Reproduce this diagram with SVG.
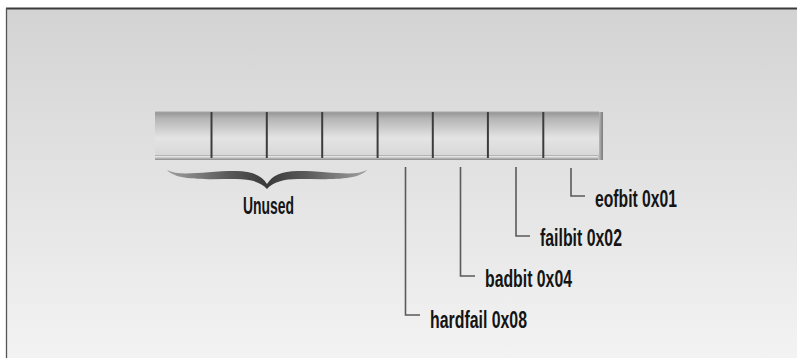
<svg xmlns="http://www.w3.org/2000/svg" width="797" height="358" viewBox="0 0 797 358">
  <defs>
    <linearGradient id="bg" x1="0" y1="0" x2="0" y2="1">
      <stop offset="0" stop-color="#d3d3d3"/>
      <stop offset="1" stop-color="#f3f3f3"/>
    </linearGradient>
    <linearGradient id="barFace" x1="0" y1="0" x2="0" y2="1">
      <stop offset="0" stop-color="#949494"/>
      <stop offset="0.15" stop-color="#b4b4b4"/>
      <stop offset="0.6" stop-color="#e4e4e4"/>
      <stop offset="1" stop-color="#d8d8d8"/>
    </linearGradient>
    <linearGradient id="barBottom" x1="0" y1="0" x2="0" y2="1">
      <stop offset="0" stop-color="#9a9a9a"/>
      <stop offset="0.3" stop-color="#e4e4e4"/>
      <stop offset="1" stop-color="#8a8a8a"/>
    </linearGradient>
    <linearGradient id="barSide" x1="0" y1="0" x2="1" y2="0">
      <stop offset="0" stop-color="#c8c8c8"/>
      <stop offset="1" stop-color="#7a7a7a"/>
    </linearGradient>
    <linearGradient id="braceFill" x1="0" y1="0" x2="1" y2="0">
      <stop offset="0" stop-color="#a0a0a0"/>
      <stop offset="0.3" stop-color="#5a5a5a"/>
      <stop offset="0.5" stop-color="#3a3a3a"/>
      <stop offset="0.7" stop-color="#5a5a5a"/>
      <stop offset="1" stop-color="#a0a0a0"/>
    </linearGradient>
    <style>
      .lbl { font-family: "Liberation Sans Narrow", "Liberation Sans", Arial, sans-serif; font-size: 23.5px; font-weight: bold; fill: #141414; }
      .div { stroke: #3c3c3c; stroke-width: 2; }
      .lead { fill: none; stroke: #5a5a5a; stroke-width: 1.6; }
    </style>
  </defs>

  <!-- background frame -->
  <rect x="0" y="0" width="797" height="358" fill="#ffffff"/>
  <rect x="7" y="9" width="790" height="349" fill="url(#bg)"/>
  <line x1="6" y1="8.5" x2="797" y2="8.5" stroke="#3a3a3a" stroke-width="1.8"/>
  <line x1="6.5" y1="8" x2="6.5" y2="358" stroke="#555" stroke-width="1.3"/>

  <!-- register bar -->
  <g id="register">
    <rect x="155" y="155" width="446" height="5" fill="url(#barBottom)"/>
    <rect x="598" y="112" width="5" height="48" fill="url(#barSide)"/>
    <rect x="155" y="112" width="444" height="43" fill="url(#barFace)"/>
    <line x1="155" y1="112" x2="599" y2="112" stroke="#a8a8a8" stroke-width="1"/>
    <line class="div" x1="211.5" y1="112" x2="211.5" y2="158"/>
    <line class="div" x1="266.8" y1="112" x2="266.8" y2="158"/>
    <line class="div" x1="322.2" y1="112" x2="322.2" y2="158"/>
    <line class="div" x1="377.6" y1="112" x2="377.6" y2="158"/>
    <line class="div" x1="432.8" y1="112" x2="432.8" y2="158"/>
    <line class="div" x1="487.9" y1="112" x2="487.9" y2="158"/>
    <line class="div" x1="543.3" y1="112" x2="543.3" y2="158"/>
  </g>

  <!-- unused brace -->
  <g id="unused">
    <path d="M167,170 C180,177 205,171 236,171 C253,171 262,176 267,184 C272,176 281,171 298,171 C329,171 354,177 367,170 C357,181 329,179 298,179 C284,179 273,182 267,189 C261,182 250,179 236,179 C205,179 177,181 167,170 Z" fill="url(#braceFill)"/>
    <text class="lbl" x="243" y="214" textLength="51" lengthAdjust="spacingAndGlyphs">Unused</text>
  </g>

  <!-- connectors -->
  <g id="connectors">
    <polyline class="lead" points="405.5,167 405.5,315 420,315"/>
    <polyline class="lead" points="460.5,167 460.5,276 475,276"/>
    <polyline class="lead" points="516,167 516,236 530,236"/>
    <polyline class="lead" points="571,168 571,196 585,196"/>
  </g>

  <g id="hardfail">
    <text class="lbl" x="430" y="328" textLength="97" lengthAdjust="spacingAndGlyphs">hardfail 0x08</text>
  </g>
  <g id="badbit">
    <text class="lbl" x="485" y="287" textLength="87" lengthAdjust="spacingAndGlyphs">badbit 0x04</text>
  </g>
  <g id="failbit">
    <text class="lbl" x="540" y="246" textLength="82" lengthAdjust="spacingAndGlyphs">failbit 0x02</text>
  </g>
  <g id="eofbit">
    <text class="lbl" x="595" y="207" textLength="82" lengthAdjust="spacingAndGlyphs">eofbit 0x01</text>
  </g>
</svg>
